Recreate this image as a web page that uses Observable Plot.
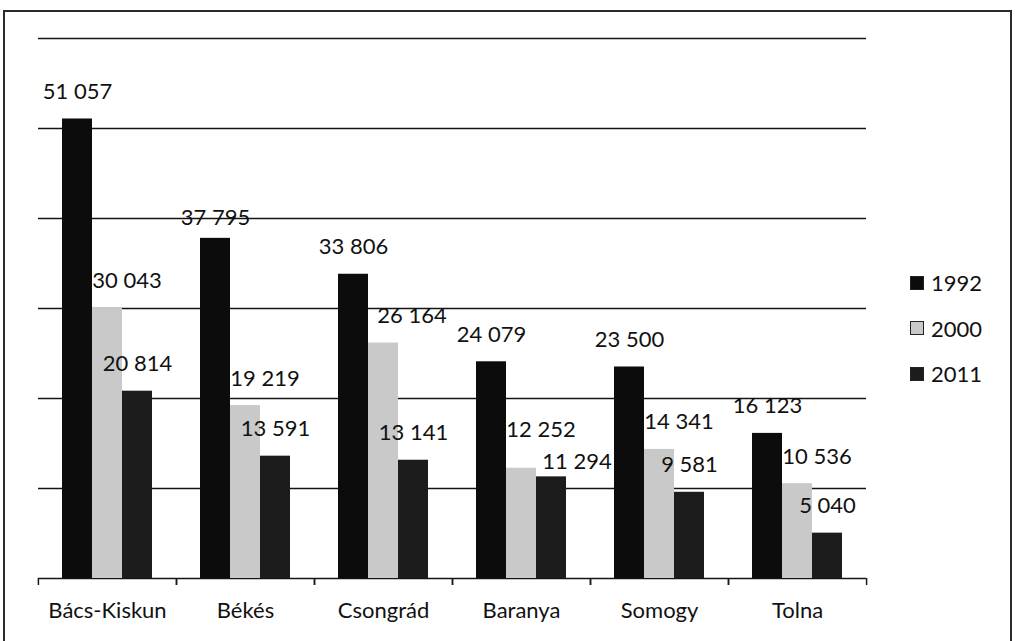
<!DOCTYPE html>
<html><head><meta charset="utf-8">
<script src="https://cdn.jsdelivr.net/npm/d3@7"></script>
<script src="https://cdn.jsdelivr.net/npm/@observablehq/plot@0.6"></script>
<style>
body{margin:0;background:#fff;font-family:Lato,"Open Sans",sans-serif;}
#wrap{position:relative;width:1016px;height:641px;overflow:hidden;}
#chart{position:absolute;left:0;top:0;}
#border{position:absolute;left:3px;top:10px;width:1009px;height:680px;border:2px solid #2b2b2b;box-sizing:border-box;pointer-events:none}
#legend{position:absolute;left:910px;top:260px;font-size:22px;color:#111;font-family:Lato,sans-serif}
.item{display:flex;align-items:center;height:45.5px}
.sw{width:14px;height:14px;margin-right:7px;box-sizing:border-box;border:1.5px solid #222}
</style></head><body>
<div id="wrap"><div id="chart"></div><div id="border"></div><div id="legend"></div></div>
<script>
const categories = ["Bács-Kiskun", "Békés", "Csongrád", "Baranya", "Somogy", "Tolna"];
const years = ["1992", "2000", "2011"];
const values1992 = [51057, 37795, 33806, 24079, 23500, 16123];
const values2000 = [30043, 19219, 26164, 12252, 14341, 10536];
const values2011 = [20814, 13591, 13141, 11294, 9581, 5040];
const yTicks = [0, 10000, 20000, 30000, 40000, 50000, 60000];
const colors = ["#0c0c0c", "#c9c9c9", "#1c1c1c"];

const series = [values1992, values2000, values2011];
const data = categories.flatMap((c, i) => years.map((yr, j) => ({category: c, year: yr, value: series[j][i]})));

const W = 1016, H = 641, mL = 35, mR = 148, mT = 38, mB = 63;
const facetW = (W - mL - mR) / categories.length;
const outer = 0.79;
const barW = facetW / (years.length + 2 * outer);
const edge = barW * (0.5 + outer);
const fmt = d3.formatLocale({decimal: ",", thousands: " ", grouping: [3], currency: ["", ""]}).format(",d");

// labels the original chart placed by hand
const is = (c, y) => d => d.category === c && d.year === y;
const special = [is("Békés", "1992"), is("Baranya", "2000"), is("Baranya", "2011"), is("Csongrád", "2000")];
const regular = d => !special.some(f => f(d));
const label = d => fmt(d.value);
const textBase = {fx: "category", x: "year", y: "value", text: label, fill: "#111", fontSize: 22};

const chart = Plot.plot({
  width: W, height: H,
  marginLeft: mL, marginRight: mR, marginTop: mT, marginBottom: mB,
  style: {fontFamily: "Lato, sans-serif", fontSize: "22px", background: "transparent", color: "#111"},
  fx: {domain: categories, padding: 0, label: null},
  x: {domain: years, paddingInner: 0, paddingOuter: outer, axis: null},
  y: {domain: [0, 60000], axis: null},
  color: {domain: years, range: colors},
  marks: [
    Plot.ruleY(yTicks, {stroke: "#151515", strokeWidth: 1.7}),
    Plot.barY(data, {fx: "category", x: "year", y: "value", fill: "year", inset: 0}),
    Plot.ruleX([years[0]], {x: d => d, y1: 0, y2: 0, insetBottom: -7, dx: -edge, stroke: "#1a1a1a", strokeWidth: 1.5}),
    Plot.ruleX([years[years.length - 1]], {x: d => d, y1: 0, y2: 0, insetBottom: -7, dx: edge, stroke: "#1a1a1a", strokeWidth: 1.5}),
    Plot.text(data.filter(d => d.year !== "2000" && regular(d)), {...textBase, dy: -27}),
    Plot.text(data.filter(d => d.year === "2000" && regular(d)), {...textBase, dy: -27, dx: -barW / 2, textAnchor: "start"}),
    Plot.text(data.filter(special[0]), {...textBase, dy: -20}),
    Plot.text(data.filter(special[1]), {...textBase, dy: -38, dx: -barW / 2, textAnchor: "start"}),
    Plot.text(data.filter(special[2]), {...textBase, dy: -15, dx: -barW / 2 + 6, textAnchor: "start"}),
    Plot.text(data.filter(special[3]), {...textBase, dy: -27, dx: -barW / 2 + 9, textAnchor: "start"}),
    Plot.axisFx({anchor: "bottom", tickSize: 0, tickPadding: 24, fontSize: 22, label: null, fill: "#111"})
  ]
});
document.getElementById("chart").appendChild(chart);

const legend = d3.select("#legend");
years.forEach((yr, j) => {
  const it = legend.append("div").attr("class", "item");
  it.append("div").attr("class", "sw").style("background", colors[j]);
  it.append("span").text(yr);
});
</script>
</body></html>
